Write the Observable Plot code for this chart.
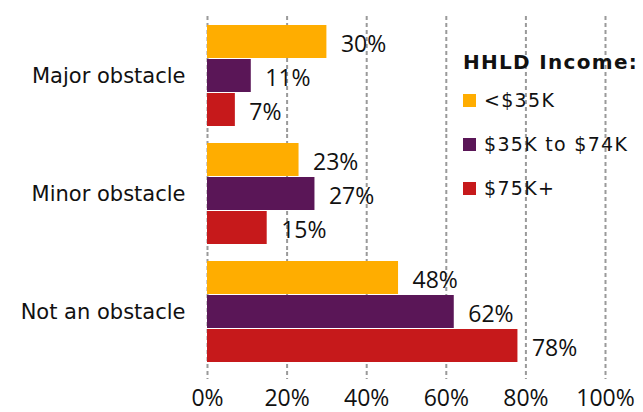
<!DOCTYPE html>
<html>
<head>
<meta charset="utf-8">
<script src="https://cdn.jsdelivr.net/npm/d3@7"></script>
<script src="https://cdn.jsdelivr.net/npm/@observablehq/plot@0.6"></script>
<style>
  html, body { margin: 0; padding: 0; background: #fff; }
  #wrap { position: relative; width: 643px; height: 412px; }
  #legend { position: absolute; left: 463px; top: 49px; font-family: "DejaVu Sans", sans-serif; color: #111; }
  #legend .title { font-weight: bold; font-size: 20px; letter-spacing: 1.3px; height: 26px; line-height: 26px; margin-bottom: 3px; white-space: nowrap; }
  #legend .item { display: flex; align-items: center; font-size: 19px; letter-spacing: 1.3px; height: 44px; white-space: nowrap; }
  #legend .sw { width: 13px; height: 13px; margin-right: 8px; }
</style>
</head>
<body>
<div id="wrap"></div>
<script>
const categories = ["Major obstacle", "Minor obstacle", "Not an obstacle"];
const incomes = ["<$35K", "$35K to $74K", "$75K+"];
const colors = ["#FFAD00", "#5A1657", "#C6191B"];
const lowIncome = [30, 23, 48];
const midIncome = [11, 27, 62];
const highIncome = [7, 15, 78];
const xTicks = [0, 20, 40, 60, 80, 100];
const legendTitle = "HHLD Income:";

const seriesValues = [lowIncome, midIncome, highIncome];
const data = [];
categories.forEach((c, i) => {
  incomes.forEach((s, j) => data.push({category: c, income: s, value: seriesValues[j][i]}));
});
const gridUpper = [];
const gridLast = [];
categories.forEach((c, i) => xTicks.forEach(x => (i < categories.length - 1 ? gridUpper : gridLast).push({category: c, x})));

const chart = Plot.plot({
  width: 643,
  height: 412,
  marginLeft: 207,
  marginRight: 38,
  marginTop: 23,
  marginBottom: 48,
  style: {fontFamily: "'Open Sans', sans-serif", background: "#fff", overflow: "visible"},
  x: {domain: [0, 100], axis: null},
  y: {domain: incomes, padding: 0, axis: null},
  fy: {domain: categories, paddingInner: 0.125, paddingOuter: 0, axis: null},
  color: {domain: incomes, range: colors},
  marks: [
    Plot.ruleX(gridUpper, {x: "x", fy: "category", stroke: "#9a9a9a", strokeWidth: 2, strokeDasharray: "4,3", insetTop: -8, insetBottom: -7}),
    Plot.ruleX(gridLast, {x: "x", fy: "category", stroke: "#9a9a9a", strokeWidth: 2, strokeDasharray: "4,3", insetTop: -8, insetBottom: -16}),
    Plot.barX(data, {fy: "category", y: "income", x: "value", fill: "income", insetBottom: 1}),
    Plot.text(data, {fy: "category", y: "income", x: "value", text: d => d.value + "%", textAnchor: "start", dx: 14, dy: 2, fontSize: 23, fill: "#111"}),
    Plot.axisX({ticks: xTicks, tickFormat: d => d + "%", tickSize: 0, tickPadding: 26, fontSize: 23, fill: "#111", label: null}),
    Plot.axisFy({anchor: "left", tickSize: 0, tickPadding: 22, fontSize: 21, fontFamily: "DejaVu Sans", fill: "#111", label: null})
  ]
});

const wrap = document.getElementById("wrap");
wrap.appendChild(chart);

const legend = document.createElement("div");
legend.id = "legend";
const t = document.createElement("div");
t.className = "title";
t.textContent = legendTitle;
legend.appendChild(t);
incomes.forEach((s, j) => {
  const it = document.createElement("div");
  it.className = "item";
  const sw = document.createElement("span");
  sw.className = "sw";
  sw.style.background = colors[j];
  const tx = document.createElement("span");
  tx.textContent = s;
  it.appendChild(sw);
  it.appendChild(tx);
  legend.appendChild(it);
});
wrap.appendChild(legend);
</script>
</body>
</html>
